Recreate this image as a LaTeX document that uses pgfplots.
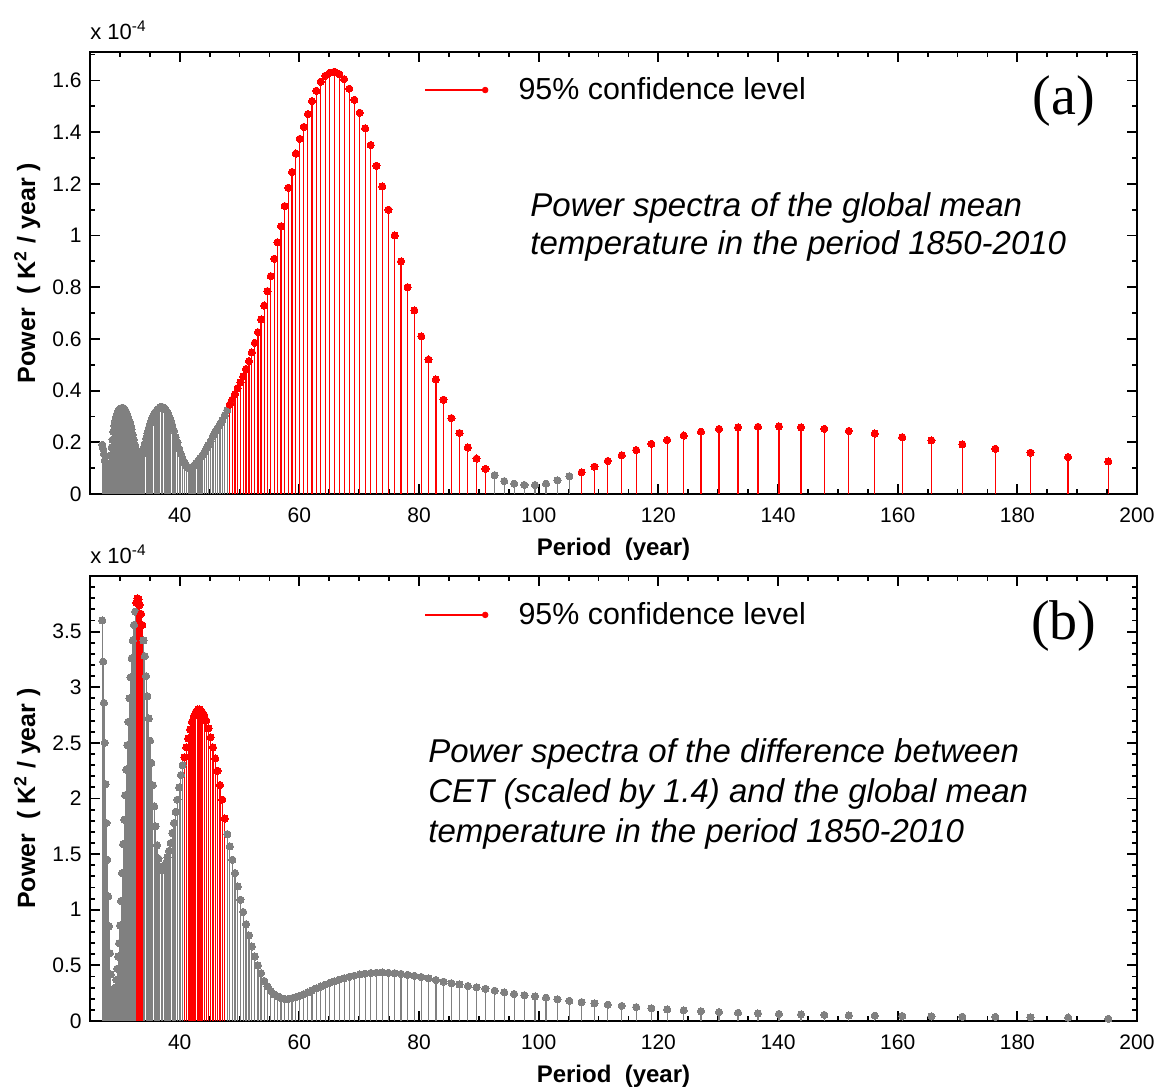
\documentclass[border=0pt]{standalone}
\usepackage{pgfplots}
\pgfplotsset{compat=1.18}
\usepackage{pgfplotstable}
\usepackage{fontspec}
\setmainfont{Liberation Sans}
\newfontfamily\timesfont{Liberation Serif}
\definecolor{mgray}{RGB}{128,128,128}
\definecolor{mred}{RGB}{255,0,0}

% ---------- panel (a) ----------
\pgfplotstableread{
P v
27.06 0.19
27.19 0.175
27.33 0.155
27.47 0.13
27.61 0.105
27.75 0.085
27.89 0.075
28.03 0.08
28.18 0.095
28.32 0.12
28.47 0.15
28.62 0.18
28.77 0.21
28.92 0.24
29.07 0.265
29.23 0.285
29.39 0.30
29.55 0.312
29.71 0.32
29.87 0.325
30.03 0.33
30.20 0.332
30.37 0.333
30.54 0.333
30.71 0.33
30.88 0.325
31.06 0.317
31.23 0.307
31.41 0.295
31.60 0.28
31.78 0.265
31.96 0.25
32.15 0.23
32.34 0.21
32.54 0.19
32.73 0.17
32.93 0.15
33.13 0.13
33.33 0.122
33.53 0.135
33.74 0.155
33.95 0.175
34.16 0.195
34.38 0.215
34.59 0.235
34.82 0.255
35.04 0.27
35.26 0.285
35.49 0.298
35.73 0.31
35.96 0.318
36.20 0.325
36.44 0.33
36.68 0.335
36.93 0.337
37.18 0.336
37.44 0.332
37.70 0.325
37.96 0.315
38.22 0.30
38.49 0.285
38.77 0.265
39.04 0.245
39.32 0.22
39.61 0.20
39.90 0.175
40.19 0.155
40.49 0.135
40.79 0.12
41.10 0.11
41.41 0.102
41.73 0.101
42.05 0.104
42.37 0.11
42.70 0.118
43.04 0.128
43.38 0.138
43.73 0.148
44.08 0.16
44.44 0.175
44.80 0.19
45.17 0.205
45.55 0.225
45.93 0.24
46.32 0.255
46.72 0.27
47.12 0.285
47.53 0.305
47.95 0.325
92.64 0.073
94.24 0.05
95.89 0.04
97.61 0.035
99.38 0.035
101.22 0.04
103.13 0.053
105.12 0.069
}\grayA

\pgfplotstableread{
P v
48.37 0.346
48.80 0.365
49.24 0.387
49.69 0.410
50.15 0.432
50.61 0.455
51.08 0.484
51.57 0.514
52.06 0.548
52.56 0.585
53.07 0.626
53.59 0.675
54.12 0.729
54.66 0.785
55.21 0.843
55.78 0.910
56.35 0.974
56.94 1.036
57.54 1.114
58.15 1.185
58.77 1.246
59.41 1.317
60.07 1.374
60.73 1.42
61.42 1.47
62.11 1.52
62.83 1.56
63.56 1.595
64.31 1.618
65.07 1.630
65.86 1.634
66.66 1.625
67.48 1.605
68.33 1.568
69.19 1.525
70.08 1.475
70.99 1.415
71.92 1.35
72.88 1.27
73.86 1.19
74.88 1.10
75.92 1.00
76.99 0.90
78.09 0.80
79.22 0.71
80.38 0.61
81.58 0.52
82.82 0.443
84.09 0.365
85.41 0.294
86.76 0.236
88.16 0.180
89.61 0.137
91.10 0.097
107.18 0.084
109.32 0.106
111.55 0.128
113.88 0.150
116.30 0.170
118.83 0.194
121.47 0.209
124.23 0.226
127.12 0.241
130.14 0.252
133.32 0.258
136.65 0.260
140.15 0.262
143.84 0.258
147.73 0.252
151.83 0.244
156.17 0.234
160.76 0.220
165.64 0.207
170.81 0.192
176.32 0.175
182.20 0.160
188.48 0.143
195.21 0.126
}\redA

% ---------- panel (b) ----------
\pgfplotstableread{
P v
27.06 3.60
27.19 3.23
27.33 2.86
27.47 2.50
27.61 2.13
27.75 1.78
27.89 1.45
28.03 1.12
28.18 0.85
28.32 0.61
28.47 0.42
28.62 0.28
28.77 0.22
28.92 0.22
29.07 0.25
29.23 0.30
29.39 0.37
29.55 0.47
29.71 0.58
29.87 0.70
30.03 0.86
30.20 1.08
30.37 1.33
30.54 1.59
30.71 1.81
30.88 2.03
31.06 2.26
31.23 2.48
31.41 2.69
31.60 2.90
31.78 3.09
31.96 3.26
32.15 3.42
32.34 3.56
32.54 3.68
33.95 3.42
34.16 3.28
34.38 3.10
34.59 2.92
34.82 2.72
35.04 2.52
35.26 2.32
35.49 2.12
35.73 1.93
35.96 1.75
36.20 1.58
36.44 1.46
36.68 1.39
36.93 1.36
37.18 1.36
37.44 1.38
37.70 1.42
37.96 1.47
38.22 1.53
38.49 1.60
38.77 1.69
39.04 1.78
39.32 1.88
39.61 1.99
39.90 2.10
40.19 2.21
40.49 2.30
47.95 1.68
48.37 1.57
48.80 1.45
49.24 1.33
49.69 1.21
50.15 1.09
50.61 0.98
51.08 0.87
51.57 0.77
52.06 0.67
52.56 0.58
53.07 0.50
53.59 0.43
54.12 0.36
54.66 0.31
55.21 0.27
55.78 0.24
56.35 0.22
56.94 0.205
57.54 0.198
58.15 0.198
58.77 0.205
59.41 0.215
60.07 0.228
60.73 0.242
61.42 0.258
62.11 0.275
62.83 0.293
63.56 0.31
64.31 0.327
65.07 0.343
65.86 0.358
66.66 0.372
67.48 0.385
68.33 0.397
69.19 0.408
70.08 0.418
70.99 0.426
71.92 0.432
72.88 0.435
73.86 0.436
74.88 0.434
75.92 0.43
76.99 0.424
78.09 0.416
79.22 0.407
80.38 0.396
81.58 0.383
82.82 0.369
84.09 0.354
85.41 0.34
86.76 0.328
88.16 0.315
89.61 0.303
91.10 0.29
92.64 0.273
94.24 0.258
95.89 0.243
97.61 0.232
99.38 0.221
101.22 0.21
103.13 0.195
105.12 0.182
107.18 0.17
109.32 0.158
111.55 0.147
113.88 0.136
116.30 0.125
118.83 0.114
121.47 0.104
124.23 0.096
127.12 0.088
130.14 0.08
133.32 0.074
136.65 0.068
140.15 0.064
143.84 0.059
147.73 0.055
151.83 0.051
156.17 0.048
160.76 0.045
165.64 0.042
170.81 0.039
176.32 0.037
182.20 0.034
188.48 0.031
195.21 0.02
}\grayB

\pgfplotstableread{
P v
32.73 3.76
32.93 3.80
33.13 3.79
33.33 3.74
33.53 3.66
33.74 3.56
40.79 2.37
41.10 2.46
41.41 2.54
41.73 2.62
42.05 2.69
42.37 2.74
42.70 2.78
43.04 2.80
43.38 2.80
43.73 2.78
44.08 2.75
44.44 2.70
44.80 2.63
45.17 2.55
45.55 2.46
45.93 2.36
46.32 2.25
46.72 2.12
47.12 1.99
47.53 1.82
}\redB

\pgfplotsset{
  myaxis/.style={
    scale only axis, width=523.5pt,
    xmin=25, xmax=200,
    xtick={40,60,...,200},
    minor xtick={25,30,...,200},
    tick align=inside,
    major tick length=5pt, minor tick length=2.5pt,
    every tick/.style={black, line width=0.9pt},
    axis line style={line width=1.1pt},
    tick label style={font=\fontsize{10.5}{12}\selectfont},
    /pgf/number format/assume math mode=true,
    xticklabel style={yshift=-3.3pt},
    yticklabel style={xshift=-0.7pt},
    xlabel={Period\ \ (year)},
    xlabel style={at={(axis description cs:0.5,0)}, anchor=center, yshift=-27.5pt, font=\fontsize{12}{14}\selectfont\bfseries},
    ylabel={Power\ \ ( K\textsuperscript{2} / year )},
    ylabel style={at={(axis description cs:-0.060,0.5)}, anchor=center, font=\fontsize{12.5}{14}\selectfont\bfseries},
    clip=false,
    legend style={draw=none, fill=none, inner sep=0pt, anchor=west,
      font=\fontsize{15.2}{17}\selectfont},
    legend image code/.code={%
      \draw[mred, line width=0.8pt] (0pt,0pt) -- (30pt,0pt);
      \fill[mred] (30pt,0pt) circle (1.4pt);
      \path (44.5pt,0pt);},
    graystem/.style={ycomb, color=mgray, line width=0.6pt, mark=*, mark size=1.8pt,
      mark options={fill=mgray, draw=mgray, line width=0pt}},
    redstem/.style={ycomb, color=mred, line width=0.6pt, mark=*, mark size=1.8pt,
      mark options={fill=mred, draw=mred, line width=0pt}},
  }
}

\begin{document}
\begin{tikzpicture}
\useasboundingbox (-45pt,-297.5pt) rectangle (539pt,247pt);

\begin{axis}[myaxis, at={(0pt,0pt)}, anchor=south west, height=221pt,
  ymin=0, ymax=1.71, ytick={0,0.2,...,1.6}, minor ytick={0,0.1,...,1.7},
  legend style={at={(0.319,0.914)}}]
\addlegendimage{mred}
\addlegendentry{95\% confidence level}
\addplot[graystem, forget plot] table[x=P,y=v] {\grayA};
\addplot[redstem, forget plot] table[x=P,y=v] {\redA};
\node[anchor=base west, font=\fontsize{11}{12}\selectfont, inner sep=0pt]
  at (rel axis cs:0,1) [yshift=6.5pt] {x 10\textsuperscript{-4}};
\node[anchor=base west, font=\fontsize{16.5}{19}\selectfont\itshape, inner sep=0pt]
  at (rel axis cs:0.4203,0.627) {Power spectra of the global mean};
\node[anchor=base west, font=\fontsize{16.5}{19}\selectfont\itshape, inner sep=0pt]
  at (rel axis cs:0.4203,0.541) {temperature in the period 1850-2010};
\node[anchor=center, font=\fontsize{28}{30}\selectfont\timesfont, inner sep=0pt]
  at (rel axis cs:0.930,0.889) {(a)};
\end{axis}

\begin{axis}[myaxis, at={(0pt,-263.5pt)}, anchor=south west, height=222.5pt,
  ymin=0, ymax=4, ytick={0,0.5,...,3.5}, minor ytick={0,0.1,...,4},
  legend style={at={(0.319,0.9126)}}]
\addlegendimage{mred}
\addlegendentry{95\% confidence level}
\addplot[graystem, forget plot] table[x=P,y=v] {\grayB};
\addplot[redstem, forget plot] table[x=P,y=v] {\redB};
\node[anchor=base west, font=\fontsize{11}{12}\selectfont, inner sep=0pt]
  at (rel axis cs:0,1) [yshift=6.5pt] {x 10\textsuperscript{-4}};
\node[anchor=base west, font=\fontsize{16.5}{19}\selectfont\itshape, inner sep=0pt]
  at (rel axis cs:0.3228,0.582) {Power spectra of the difference between};
\node[anchor=base west, font=\fontsize{16.5}{19}\selectfont\itshape, inner sep=0pt]
  at (rel axis cs:0.3228,0.492) {CET (scaled by 1.4) and the global mean};
\node[anchor=base west, font=\fontsize{16.5}{19}\selectfont\itshape, inner sep=0pt]
  at (rel axis cs:0.3228,0.402) {temperature in the period 1850-2010};
\node[anchor=center, font=\fontsize{28}{30}\selectfont\timesfont, inner sep=0pt]
  at (rel axis cs:0.930,0.8876) {(b)};
\end{axis}
\end{tikzpicture}
\end{document}
